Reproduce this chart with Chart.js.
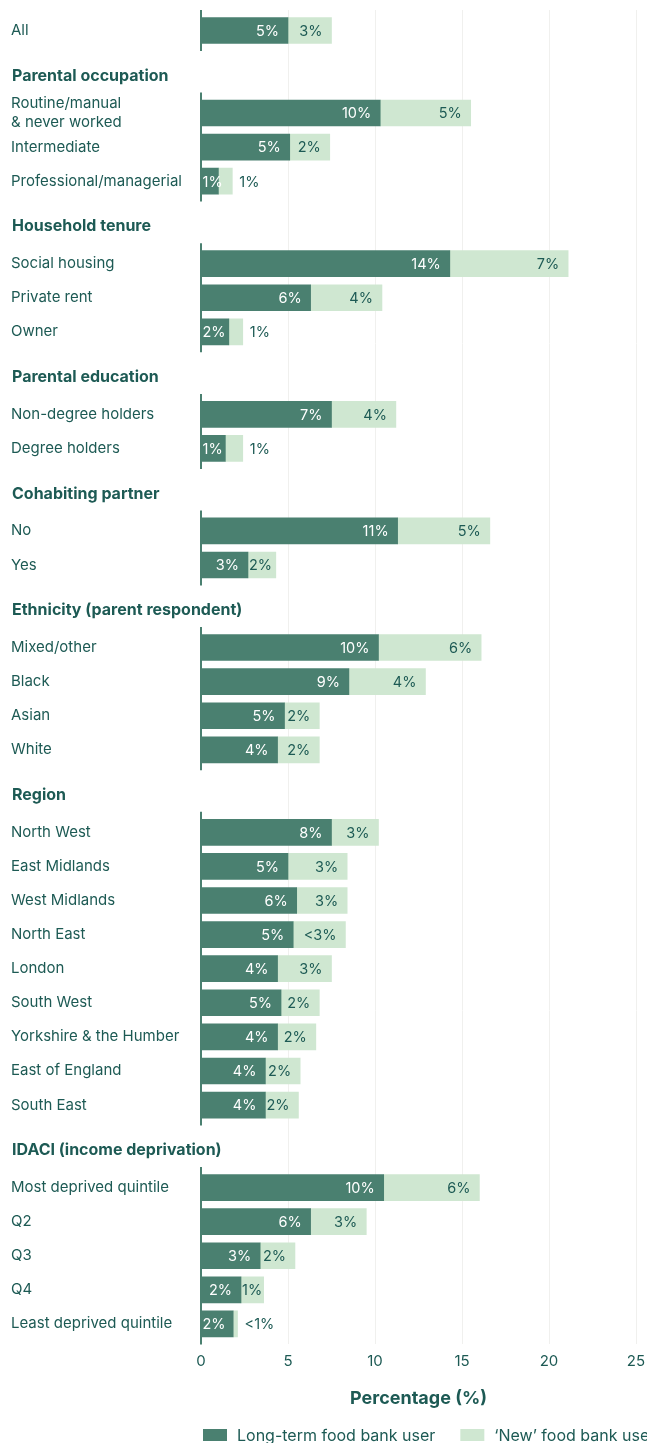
<!DOCTYPE html>
<html><head><meta charset="utf-8">
<script src="https://cdn.jsdelivr.net/npm/chart.js@4.4.1/dist/chart.umd.min.js"></script>
<style>html,body{margin:0;padding:0;background:#fff}#wrap{width:647px;height:1443px;position:relative}</style>
</head><body><div id="wrap"><canvas id="c"></canvas></div>
<script>
// ---- data ----
const groupTitles = [null, 'Parental occupation', 'Household tenure', 'Parental education', 'Cohabiting partner', 'Ethnicity (parent respondent)', 'Region', 'IDACI (income deprivation)'];
const groupSizes = [1, 3, 3, 2, 2, 4, 9, 5];
const categories = ['All', ['Routine/manual', '& never worked'], 'Intermediate', 'Professional/managerial',
  'Social housing', 'Private rent', 'Owner', 'Non-degree holders', 'Degree holders', 'No', 'Yes',
  'Mixed/other', 'Black', 'Asian', 'White', 'North West', 'East Midlands', 'West Midlands', 'North East',
  'London', 'South West', 'Yorkshire & the Humber', 'East of England', 'South East',
  'Most deprived quintile', 'Q2', 'Q3', 'Q4', 'Least deprived quintile'];
const longTerm = [5.0, 10.3, 5.1, 1.0, 14.3, 6.3, 1.6, 7.5, 1.4, 11.3, 2.7, 10.2, 8.5, 4.8, 4.4, 7.5, 5.0, 5.5, 5.3, 4.4, 4.6, 4.4, 3.7, 3.7, 10.5, 6.3, 3.4, 2.3, 1.85];
const newUsers = [2.5, 5.2, 2.3, 0.8, 6.8, 4.1, 0.8, 3.7, 1.0, 5.3, 1.6, 5.9, 4.4, 2.0, 2.4, 2.7, 3.4, 2.9, 3.0, 3.1, 2.2, 2.2, 2.0, 1.9, 5.5, 3.2, 2.0, 1.3, 0.25];
const longTermLabels = ['5%', '10%', '5%', '1%', '14%', '6%', '2%', '7%', '1%', '11%', '3%', '10%', '9%', '5%', '4%', '8%', '5%', '6%', '5%', '4%', '5%', '4%', '4%', '4%', '10%', '6%', '3%', '2%', '2%'];
const newUserLabels = ['3%', '5%', '2%', '1%', '7%', '4%', '1%', '4%', '1%', '5%', '2%', '6%', '4%', '2%', '2%', '3%', '3%', '3%', '<3%', '3%', '2%', '2%', '2%', '2%', '6%', '3%', '2%', '1%', '<1%'];
const xTicks = [0, 5, 10, 15, 20, 25];
const seriesNames = ['Long-term food bank user', '\u2018New\u2019 food bank user'];
const axisTitle = 'Percentage (%)';

// ---- styles ----
const FAMILY = 'Inter, sans-serif';
const TEXT = '#1d5a54';
const DARK = '#4a8070';
const LIGHT = '#cfe7d1';
const GAP_BEFORE = 1.33, GAP_AFTER = 1.09;

// ---- layout of rows (computed from group structure) ----
const rowPos = [], tickInfo = [], headerInfo = [], ranges = [];
let cur = null, k = 0;
groupSizes.forEach((n, g) => {
  let start;
  if (cur === null) start = 0;
  else {
    const h = cur + GAP_BEFORE;
    headerInfo.push({ value: h, label: groupTitles[g] });
    start = h + GAP_AFTER;
  }
  for (let i = 0; i < n; i++) {
    rowPos.push(start + i);
    tickInfo.push({ value: start + i, label: categories[k++] });
  }
  cur = start + n - 1;
  ranges.push([start, cur]);
});

const labelPlugin = {
  id: 'barLabels',
  afterDatasetsDraw(chart) {
    const ctx = chart.ctx;
    const m0 = chart.getDatasetMeta(0), m1 = chart.getDatasetMeta(1);
    const xs = chart.scales.x, ys = chart.scales.y;
    ctx.save();
    // axis line segments, one per group
    ctx.strokeStyle = DARK; ctx.lineWidth = 2;
    const x0 = xs.getPixelForValue(0);
    ranges.forEach(([a, b]) => {
      ctx.beginPath();
      ctx.moveTo(x0, ys.getPixelForValue(a - 0.6));
      ctx.lineTo(x0, ys.getPixelForValue(b + 0.6));
      ctx.stroke();
    });
    // value labels
    ctx.font = '14.5px ' + FAMILY;
    ctx.textBaseline = 'middle';
    m0.data.forEach((bar, i) => {
      const l1 = longTermLabels[i], tw1 = ctx.measureText(l1).width;
      ctx.fillStyle = '#ffffff'; ctx.textAlign = 'right';
      ctx.fillText(l1, Math.max(bar.x - 9, bar.base + 1 + tw1), bar.y + 1);
      const b = m1.data[i], l2 = newUserLabels[i], tw2 = ctx.measureText(l2).width;
      ctx.fillStyle = TEXT;
      if (b.base + tw2 <= b.x) {
        ctx.textAlign = 'right';
        ctx.fillText(l2, Math.max(b.x - 9, b.base + 1 + tw2), b.y + 1);
      } else {
        ctx.textAlign = 'left';
        ctx.fillText(l2, b.x + 7, b.y + 1);
      }
    });
    // group headers
    ctx.font = 'bold 16px ' + FAMILY;
    ctx.textAlign = 'left';
    ctx.fillStyle = TEXT;
    headerInfo.forEach(h => ctx.fillText(h.label, ys.left + 1, ys.getPixelForValue(h.value)));
    // legend
    ctx.font = '16px ' + FAMILY;
    const ly = chart.height - 8;
    let lx = chart.chartArea.left + 2;
    [DARK, LIGHT].forEach((c, i) => {
      ctx.fillStyle = c;
      ctx.fillRect(lx, ly - 6, 24, 12);
      ctx.fillStyle = TEXT;
      ctx.fillText(seriesNames[i], lx + 34, ly + 1);
      lx += 34 + ctx.measureText(seriesNames[i]).width + 25;
    });
    ctx.restore();
  }
};

new Chart(document.getElementById('c'), {
  type: 'bar',
  data: {
    datasets: [
      { label: seriesNames[0], data: rowPos.map((p, i) => ({ x: longTerm[i], y: p })), backgroundColor: DARK, borderWidth: 0, barThickness: 26 },
      { label: seriesNames[1], data: rowPos.map((p, i) => ({ x: newUsers[i], y: p })), backgroundColor: LIGHT, borderWidth: 0, barThickness: 26 }
    ]
  },
  options: {
    indexAxis: 'y',
    responsive: true,
    maintainAspectRatio: false,
    animation: false,
    layout: { padding: { top: 10, left: 11, right: 11, bottom: 34 } },
    plugins: { legend: { display: false }, tooltip: { enabled: false } },
    scales: {
      x: {
        type: 'linear', min: 0, max: 25, stacked: true,
        afterBuildTicks: s => { s.ticks = xTicks.map(v => ({ value: v })); },
        afterFit: s => { s.paddingLeft = 0; s.paddingRight = 0; },
        grid: { color: c => (c.tick && c.tick.value === 0) ? 'rgba(0,0,0,0)' : '#f0f0ee', drawTicks: false },
        border: { display: false },
        ticks: { color: TEXT, font: { family: FAMILY, size: 15 }, padding: 8 },
        title: { display: true, text: axisTitle, color: TEXT, font: { family: FAMILY, size: 18, weight: 'bold' }, padding: { top: 9, bottom: 0 } }
      },
      y: {
        type: 'linear', reverse: true, offset: false, min: -0.6, max: cur + 0.6, stacked: true,
        grid: { display: false, offset: false }, border: { display: false },
        afterBuildTicks: s => { s.ticks = tickInfo.map(t => ({ value: t.value })); },
        afterFit: s => { s.width = 190; s.paddingTop = 0; s.paddingBottom = 0; },
        ticks: {
          autoSkip: false, crossAlign: 'far', padding: 0, color: TEXT,
          font: { family: FAMILY, size: 15, lineHeight: 1.27 },
          callback: (v, i) => tickInfo[i] ? tickInfo[i].label : ''
        }
      }
    }
  },
  plugins: [labelPlugin]
});
</script></body></html>
